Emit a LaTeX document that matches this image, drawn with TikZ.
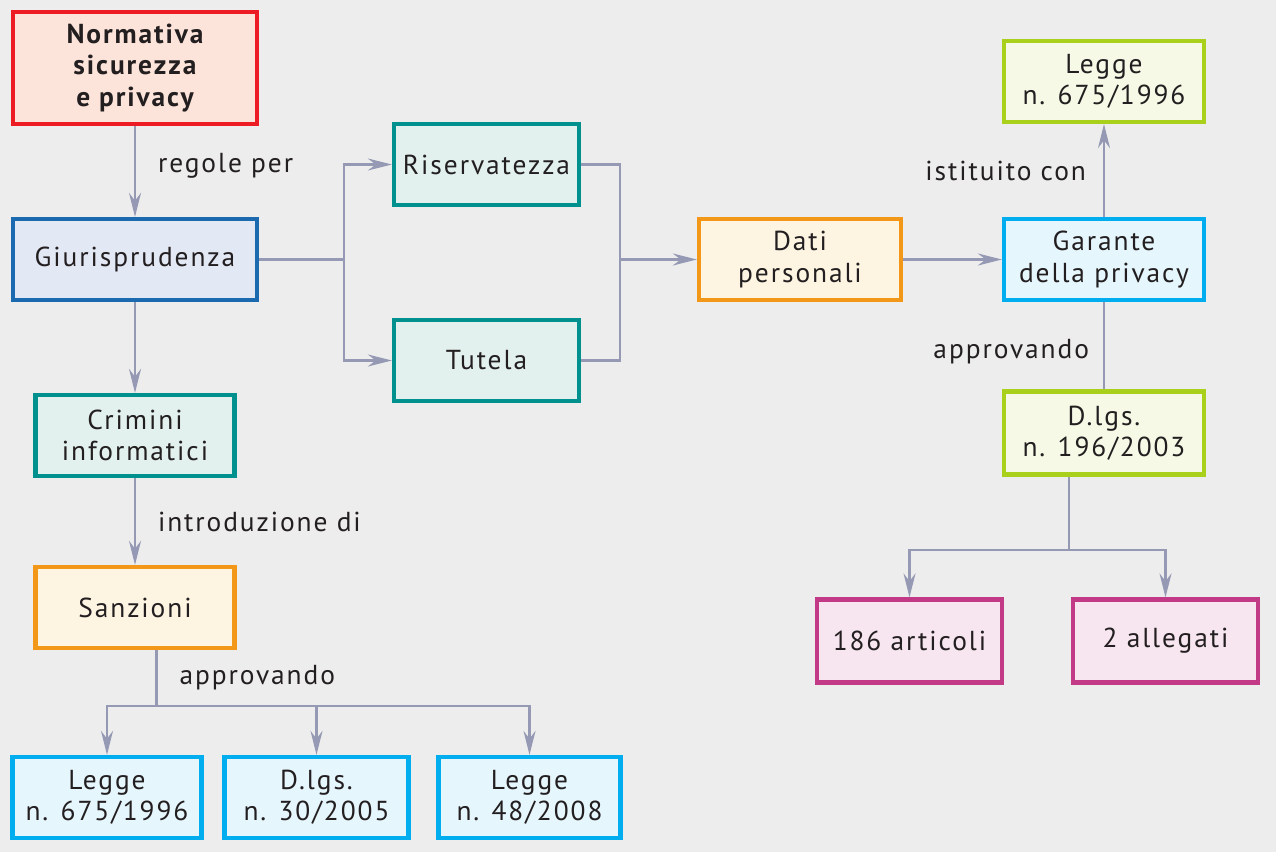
\documentclass[tikz,border=0pt]{standalone}
\usepackage{fontspec}
\setmainfont[LetterSpace=7]{PT Sans}
\usetikzlibrary{positioning,arrows.meta}
\definecolor{bgc}{HTML}{EDEDED}
\definecolor{ink}{HTML}{231F20}
\definecolor{wire}{HTML}{9599B3}
\definecolor{redb}{HTML}{ED1C24}\definecolor{redf}{HTML}{FDE4DA}
\definecolor{blueb}{HTML}{1B6AB0}\definecolor{bluef}{HTML}{E3E8F5}
\definecolor{tealb}{HTML}{00918E}\definecolor{tealf}{HTML}{E2F1ED}
\definecolor{orangeb}{HTML}{F39719}\definecolor{orangef}{HTML}{FDF4E2}
\definecolor{cyanb}{HTML}{00AEEF}\definecolor{cyanf}{HTML}{E6F6FD}
\definecolor{limeb}{HTML}{A9D11C}\definecolor{limef}{HTML}{F5F9E6}
\definecolor{magb}{HTML}{C23A85}\definecolor{magf}{HTML}{F7E6EF}
\begin{document}
\begin{tikzpicture}[x=1mm, y=1mm,
    box/.style = {draw, line width=1.2pt, align=center, inner sep=0pt, minimum height=8.1mm, text=ink, font=\fontsize{7.8}{8.9}\selectfont},
    red/.style = {box, draw=redb, fill=redf, font=\fontsize{7.8}{8.9}\selectfont\bfseries},
    blue/.style = {box, draw=blueb, fill=bluef},
    teal/.style = {box, draw=tealb, fill=tealf},
    orange/.style = {box, draw=orangeb, fill=orangef},
    cyan/.style = {box, draw=cyanb, fill=cyanf},
    lime/.style = {box, draw=limeb, fill=limef},
    mag/.style = {box, draw=magb, fill=magf},
    conn/.style = {draw=wire, line width=0.6pt},
    arr/.style = {conn, -{Stealth[length=2.4mm, width=1.2mm]}},
    lbl/.style = {inner sep=0pt, text=ink, font=\fontsize{7.8}{8.9}\selectfont}]
    \fill[bgc] (0,0) rectangle (127.6,-85.2);

    \node[red] (norm) [minimum width=24.4mm, minimum height=11.2mm] at (13.5,-6.8) {Normativa\\sicurezza\\e privacy};
    \node[blue] (giur) [minimum width=24.4mm, below of=norm, node distance=19.15mm] {Giurisprudenza};
    \node[teal] (crim) [minimum width=19.9mm, below of=giur, node distance=17.6mm] {Crimini\\informatici};
    \node[orange] (sanz) [minimum width=19.9mm, below of=crim, node distance=17.2mm] {Sanzioni};
    \node[cyan] (legge1) [minimum width=18.9mm, below of=sanz, node distance=19mm, xshift=-2.8mm] {Legge\\n. 675/1996};
    \node[cyan] (dlgs1) [minimum width=18.4mm, right of=legge1, node distance=20.95mm] {D.lgs.\\n. 30/2005};
    \node[cyan] (legge2) [minimum width=18.2mm, right of=dlgs1, node distance=21.3mm] {Legge\\n. 48/2008};

    \node[teal] (ris) [minimum width=18.5mm, right of=giur, node distance=35.15mm, yshift=9.5mm] {Riservatezza};
    \node[teal] (tut) [minimum width=18.5mm, below of=ris, node distance=19.6mm] {Tutela};
    \node[orange] (dati) [minimum width=20.2mm, right of=giur, node distance=66.5mm] {Dati\\personali};
    \node[cyan] (gar) [minimum width=20mm, right of=dati, node distance=30.4mm] {Garante\\della privacy};
    \node[lime] (legge3) [minimum width=20mm, above of=gar, node distance=17.8mm] {Legge\\n. 675/1996};
    \node[lime] (dlgs2) [minimum width=20mm, minimum height=8.3mm, below of=gar, node distance=17.35mm] {D.lgs.\\n. 196/2003};
    \node[mag] (art) [minimum width=18.5mm, minimum height=8.3mm, below of=dlgs2, node distance=20.8mm, xshift=-19.45mm] {186 articoli};
    \node[mag] (all) [minimum width=18.5mm, minimum height=8.3mm, right of=art, node distance=25.6mm] {2 allegati};

    \draw[arr] (norm) -- (giur) node[lbl, midway, right=2.2mm, yshift=0.6mm] {regole per};
    \draw[arr] (giur) -- (crim);
    \draw[arr] (crim) -- (sanz) node[lbl, midway, right=2.2mm] {introduzione di};
    \draw[conn] ([xshift=2.15mm]sanz.south) -- ++(0,-5.6) coordinate (fork2) node[lbl, midway, right=2.2mm] {approvando};
    \draw[arr] (fork2) -| (legge1);
    \draw[arr] (fork2) -| (dlgs1);
    \draw[arr] (fork2) -| (legge2);

    \draw[conn] (giur) -- ++(20.9,0) coordinate (fork1);
    \draw[arr] (fork1) |- (ris);
    \draw[arr] (fork1) |- (tut);
    \coordinate[left=7.7mm of dati.west] (join);
    \draw[conn] (ris) -| (join);
    \draw[conn] (tut) -| (join);
    \draw[arr] (join) -- (dati);
    \draw[arr] (dati) -- (gar);

    \draw[arr] (gar) -- (legge3) node[lbl, midway, left=1.7mm] {istituito con};
    \draw[conn] (gar) -- (dlgs2) node[lbl, midway, left=1.4mm, yshift=-0.6mm] {approvando};
    \draw[conn] ([xshift=-3.5mm]dlgs2.south) -- ++(0,-7.3) coordinate (fork3);
    \draw[arr] (fork3) -| (art);
    \draw[arr] (fork3) -| (all);
\end{tikzpicture}
\end{document}
